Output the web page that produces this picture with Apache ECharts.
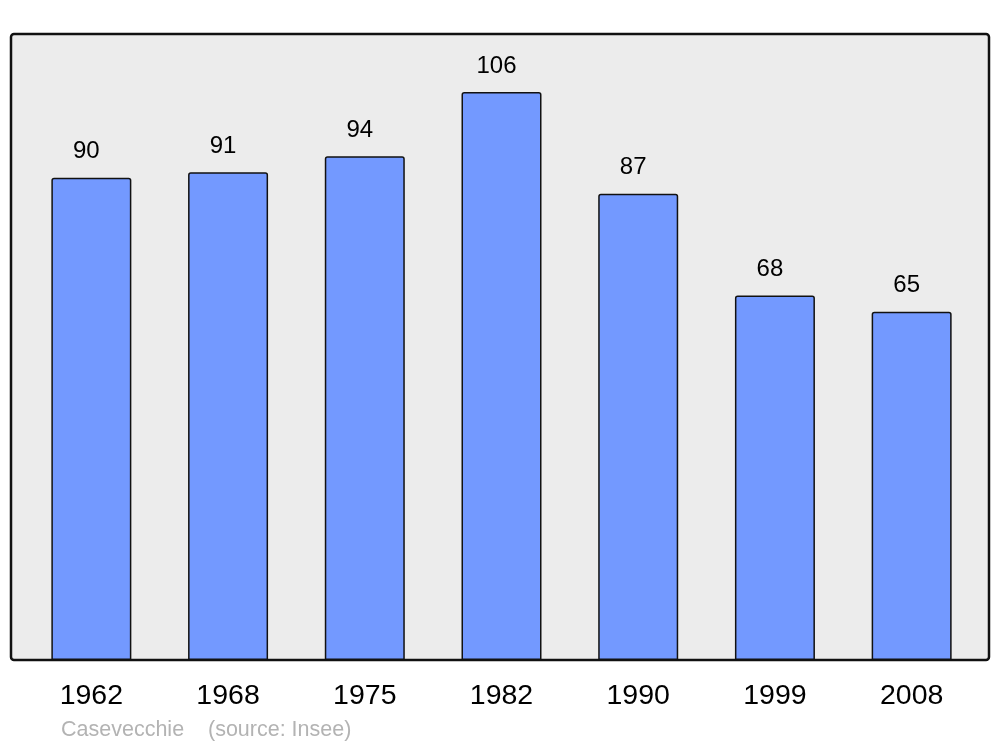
<!DOCTYPE html>
<html>
<head>
<meta charset="utf-8">
<script src="https://cdn.jsdelivr.net/npm/echarts@6/dist/echarts.min.js"></script>
<style>
html,body{margin:0;padding:0;background:#fff;}
#c{width:1000px;height:747px;}
</style>
</head>
<body>
<div id="c"></div>
<script>
const years = ['1962','1968','1975','1982','1990','1999','2008'];
const population = [90, 91, 94, 106, 87, 68, 65];
const footerText = 'Casevecchie    (source: Insee)';

const chart = echarts.init(document.getElementById('c'), null, {renderer:'canvas'});
chart.setOption({
  animation: false,
  backgroundColor: '#ffffff',
  textStyle: {fontFamily: 'Liberation Sans, Arial, sans-serif'},
  title: {
    text: footerText,
    left: 61, top: 719, padding: 0,
    textStyle: {fontSize: 21.5, fontWeight: 'normal', color: '#b3b3b3', fontFamily: 'Liberation Sans'}
  },
  graphic: [{
    type: 'rect', z: 0,
    shape: {x: 11, y: 34, width: 978, height: 626, r: 3},
    style: {fill: '#ececec', stroke: '#111', lineWidth: 2.5}
  }],
  grid: {left: 23, right: 20, top: 34, bottom: 87},
  xAxis: {
    type: 'category',
    data: years,
    axisLine: {show: false},
    axisTick: {show: false},
    axisLabel: {fontSize: 28.5, color: '#000', margin: 22, fontFamily: 'Liberation Sans'}
  },
  yAxis: {
    type: 'value', min: 0, max: 116.8,
    show: false, splitLine: {show: false}
  },
  series: [{
    type: 'bar',
    data: population,
    barWidth: 80,
    z: 2,
    itemStyle: {color: '#7399ff', borderColor: '#111', borderWidth: 1.5, borderRadius: [2,2,0,0]},
    label: {
      show: true, position: 'top', distance: 14, offset: [-5, 0],
      fontSize: 24, color: '#000', fontFamily: 'Liberation Sans'
    }
  }]
});
</script>
</body>
</html>
